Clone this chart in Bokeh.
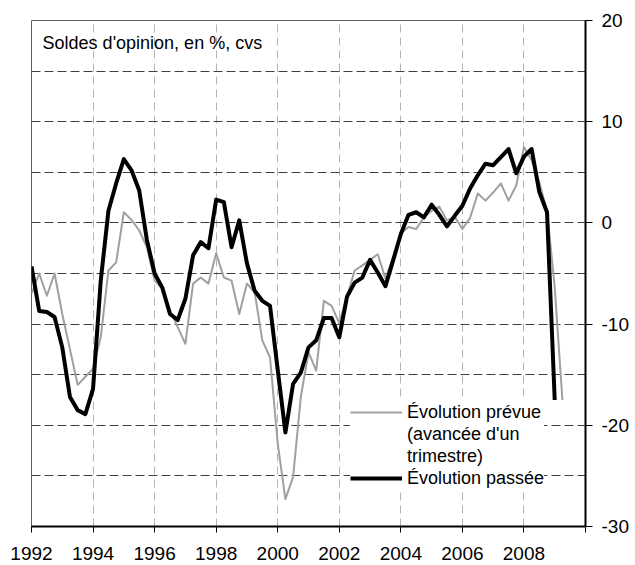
from bokeh.plotting import figure
from bokeh.models import Range1d, FixedTicker, Grid, Legend, LegendItem, Label
from bokeh.embed import file_html
from bokeh.resources import INLINE

# ---- data (quarterly, first quarter = 1992 Q1) ----
start_year = 1992
passee = [
    -4.3, -8.7, -8.8, -9.3,      # 1992
    -12.3, -17.2, -18.5, -18.9,  # 1993
    -16.4, -5.7, 1.2, 3.9,       # 1994
    6.3, 5.2, 3.2, -1.7,         # 1995
    -5.0, -6.4, -9.0, -9.6,      # 1996
    -7.5, -3.2, -1.9, -2.5,      # 1997
    2.3, 2.05, -2.4, 0.25,       # 1998
    -4.0, -6.7, -7.7, -8.2,      # 1999
    -14.5, -20.7, -15.9, -14.8,  # 2000
    -12.3, -11.6, -9.4, -9.4,    # 2001
    -11.3, -7.3, -5.9, -5.4,     # 2002
    -3.65, -4.9, -6.25, -3.7,    # 2003
    -1.1, 0.8, 1.05, 0.55,       # 2004
    1.8, 0.8, -0.35, 0.7,        # 2005
    1.7, 3.4, 4.7, 5.85,         # 2006
    5.7, 6.5, 7.3, 4.9,          # 2007
    6.55, 7.3, 3.05, 1.05,       # 2008
    -17.5,                       # 2009
]
prevue = [
    -7.0, -5.0, -7.2, -5.0,      # 1992
    -9.0, -12.5, -16.0, -15.2,   # 1993
    -14.4, -11.3, -4.7, -3.9,    # 1994
    1.05, 0.3, -0.75, -2.4,      # 1995
    -5.7, -6.5, -8.65, -10.3,    # 1996
    -11.95, -6.0, -5.4, -6.0,    # 1997
    -3.0, -5.4, -5.7, -9.0,      # 1998
    -6.0, -6.85, -11.6, -13.3,   # 1999
    -21.8, -27.3, -25.1, -17.2,  # 2000
    -12.8, -14.6, -7.7, -8.2,    # 2001
    -9.9, -7.3, -4.7, -4.2,      # 2002
    -3.65, -3.1, -5.5, -3.4,     # 2003
    -1.05, -0.4, -0.6, 0.55,     # 2004
    1.2, 1.6, 0.25, 0.6,         # 2005
    -0.6, 0.5, 2.9, 2.2,         # 2006
    3.0, 3.9, 2.2, 3.7,          # 2007
    7.5, 6.2, 4.0, 1.2,          # 2008
    -6.35, -17.5,                # 2009
]
x_ticks = [1992, 1994, 1996, 1998, 2000, 2002, 2004, 2006, 2008, 2010]
x_tick_labels = ["1992", "1994", "1996", "1998", "2000", "2002", "2004", "2006", "2008", ""]
y_ticks = [-30, -20, -10, 0, 10, 20]
y_tick_labels = ["-30", "-20", "-10", "0", "10", "20"]
y_grid_values = [-25, -20, -15, -10, -5, 0, 5, 10, 15]
x_grid_values = [1994, 1996, 1998, 2000, 2002, 2004, 2006, 2008]
title_text = "Soldes d'opinion, en %, cvs"
legend_lines_prevue = ["Évolution prévue", "(avancée d'un", "trimestre)"]
label_passee = "Évolution passée"

x_passee = [start_year + i / 4 for i in range(len(passee))]
x_prevue = [start_year + i / 4 for i in range(len(prevue))]

FONT = "Liberation Sans"

p = figure(frame_width=554, frame_height=506,
           min_border_left=31, min_border_top=20,
           min_border_right=0, min_border_bottom=0,
           x_range=Range1d(1992, 2010), y_range=Range1d(-30, 20),
           y_axis_location="right",
           output_backend="svg", toolbar_location=None)

p.background_fill_color = "white"
p.border_fill_color = "white"
p.outline_line_color = "#606060"
p.outline_line_width = 1

# axes
xa = p.xaxis[0]
xa.ticker = FixedTicker(ticks=x_ticks)
xa.major_label_overrides = {t: l for t, l in zip(x_ticks, x_tick_labels)}
xa.axis_line_color = "black"
xa.axis_line_width = 2
xa.major_tick_line_color = "black"
xa.major_tick_out = 6
xa.major_tick_in = 0
xa.minor_tick_line_color = None
xa.major_label_text_font = FONT
xa.major_label_text_font_size = "19px"
xa.major_label_text_color = "black"
xa.major_label_standoff = 14

ya = p.yaxis[0]
ya.ticker = FixedTicker(ticks=y_ticks)
ya.major_label_overrides = {t: l for t, l in zip(y_ticks, y_tick_labels)}
ya.axis_line_color = "black"
ya.axis_line_width = 2
ya.major_tick_line_color = "black"
ya.major_tick_out = 7
ya.major_tick_in = 0
ya.minor_tick_line_color = None
ya.major_label_text_font = FONT
ya.major_label_text_font_size = "19px"
ya.major_label_text_color = "black"
ya.major_label_standoff = 9

# grids
p.xgrid.visible = False
p.ygrid.visible = False
hgrid = Grid(dimension=1, ticker=FixedTicker(ticks=y_grid_values),
             grid_line_color="#404040", grid_line_dash="9 4", grid_line_width=1)
vgrid = Grid(dimension=0, ticker=FixedTicker(ticks=x_grid_values),
             grid_line_color="#b4b4b4", grid_line_dash="8 5", grid_line_width=1)
p.add_layout(vgrid)
p.add_layout(hgrid)

# series
r_prev = p.line(x_prevue, prevue, line_color="#a0a0a0", line_width=2, line_join="round")
r_pass = p.line(x_passee, passee, line_color="black", line_width=4, line_join="round")
# same series, transparent: only used to hold the extra legend text lines
r_blank = p.line(x_prevue, prevue, line_alpha=0)

# title inside plot
p.add_layout(Label(x=1992.36, y=17.73, text=title_text, text_font=FONT,
                   text_font_size="18px", text_color="black", text_baseline="middle"))

legend = Legend(items=[LegendItem(label=legend_lines_prevue[0], renderers=[r_prev]),
                       LegendItem(label=legend_lines_prevue[1], renderers=[r_blank]),
                       LegendItem(label=legend_lines_prevue[2], renderers=[r_blank]),
                       LegendItem(label=label_passee, renderers=[r_pass])],
                location=(319, 37), margin=0, padding=15, spacing=0,
                glyph_width=52, glyph_height=22, label_standoff=5,
                label_height=22,
                label_text_font=FONT, label_text_font_size="18px",
                label_text_color="black",
                background_fill_color="white", background_fill_alpha=1,
                border_line_color=None)
p.add_layout(legend)

open("out.html", "w").write(file_html(p, INLINE))
